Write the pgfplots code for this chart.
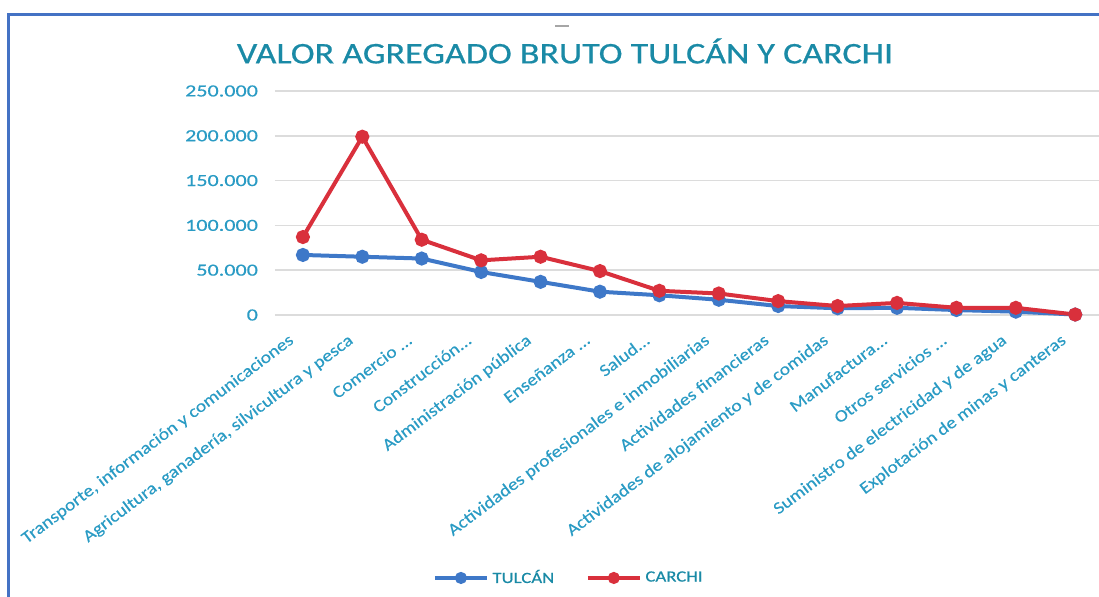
\documentclass[border=0pt]{standalone}
\usepackage{fontspec}
\setmainfont{Carlito}
\newfontfamily\ttlfont[FakeStretch=1.2,FakeBold=0.6]{Carlito}
\newfontfamily\lblfont[FakeStretch=1.15,FakeBold=0.3]{Carlito}
\newfontfamily\numfont[FakeStretch=1.3,FakeBold=0.4]{Carlito}
\usepackage{pgfplots}
\pgfplotsset{compat=1.18}

\definecolor{tulcan}{HTML}{3E78C8}
\definecolor{carchi}{HTML}{D9303C}
\definecolor{ttl}{HTML}{1A8AA6}
\definecolor{lbl}{HTML}{2A9BC4}
\definecolor{frame}{HTML}{4472C4}
\definecolor{gridc}{HTML}{DCDCDC}

\newcommand{\dd}{.\kern0pt..}

\begin{document}
\begin{tikzpicture}
\useasboundingbox (-137.5pt,-141pt) rectangle (412pt,157.5pt);
% chart frame (cut at the right and bottom)
\draw[frame, line width=1.5pt] (-133pt,-141pt) -- (-133pt,150pt) -- (412pt,150pt);
\draw[gray!70, line width=0.8pt] (140pt,144.5pt) -- (147pt,144.5pt);

\begin{axis}[
  at={(0,0)}, anchor=south west,
  width=412pt, height=112pt, scale only axis,
  xmin=-0.47, xmax=13.4,
  ymin=0, ymax=250000,
  clip=false,
  scaled y ticks=false,
  axis line style={draw=none},
  tick style={draw=none},
  ymajorgrids, grid style={gridc, line width=0.8pt},
  ytick={0,50000,100000,150000,200000,250000},
  yticklabels={0,50.000,100.000,150.000,200.000,250.000},
  yticklabel style={font=\numfont\fontsize{8.5}{10}\selectfont, text=lbl, xshift=-5pt},
  xtick={0,1,2,3,4,5,6,7,8,9,10,11,12,13},
  xticklabels={
    {Transporte, información y comunicaciones},
    {Agricultura, ganadería, silvicultura y pesca},
    {Comercio \dd},
    {Construcción\dd},
    {Administración pública},
    {Enseñanza \dd},
    {Salud\dd},
    {Actividades profesionales e inmobiliarias},
    {Actividades financieras},
    {Actividades de alojamiento y de comidas},
    {Manufactura\dd},
    {Otros servicios \dd},
    {Suministro de electricidad y de agua},
    {Explotación de minas y canteras}},
  xticklabel style={font=\lblfont\fontsize{8.5}{10}\selectfont, text=lbl,
    rotate=37, anchor=north east, xshift=-8pt, yshift=1pt},
  legend columns=2,
  legend style={at={(axis description cs:0.358,-1.174)}, anchor=center,
    draw=none, fill=none, font=\ttlfont\fontsize{7.8}{9}\selectfont, text=ttl,
    /tikz/every even column/.append style={column sep=14pt}},
  legend image code/.code={\draw[line width=1.6pt, mark size=2.2pt, mark repeat=2, mark phase=2] plot coordinates {(0pt,0pt)(13pt,0pt)(26pt,0pt)};},
  every axis plot/.append style={line width=2pt, mark=*, mark size=2.5pt},
]
\addplot[tulcan, mark options={fill=tulcan, draw=tulcan}] coordinates {
  (0,67000) (1,65000) (2,63000) (3,48000) (4,37000) (5,26000) (6,22000)
  (7,17000) (8,10000) (9,7500) (10,8000) (11,5500) (12,3700) (13,500)
};
\addlegendentry{TULCÁN}
\addplot[carchi, mark options={fill=carchi, draw=carchi}] coordinates {
  (0,87000) (1,199000) (2,84000) (3,61000) (4,65000) (5,49000) (6,27000)
  (7,24000) (8,15500) (9,10000) (10,13500) (11,8000) (12,8000) (13,500)
};
\addlegendentry{CARCHI}
\end{axis}

\node[font=\ttlfont\fontsize{15}{18}\selectfont, text=ttl] at (145pt,132pt) {VALOR AGREGADO BRUTO TULCÁN Y CARCHI};
\end{tikzpicture}
\end{document}
